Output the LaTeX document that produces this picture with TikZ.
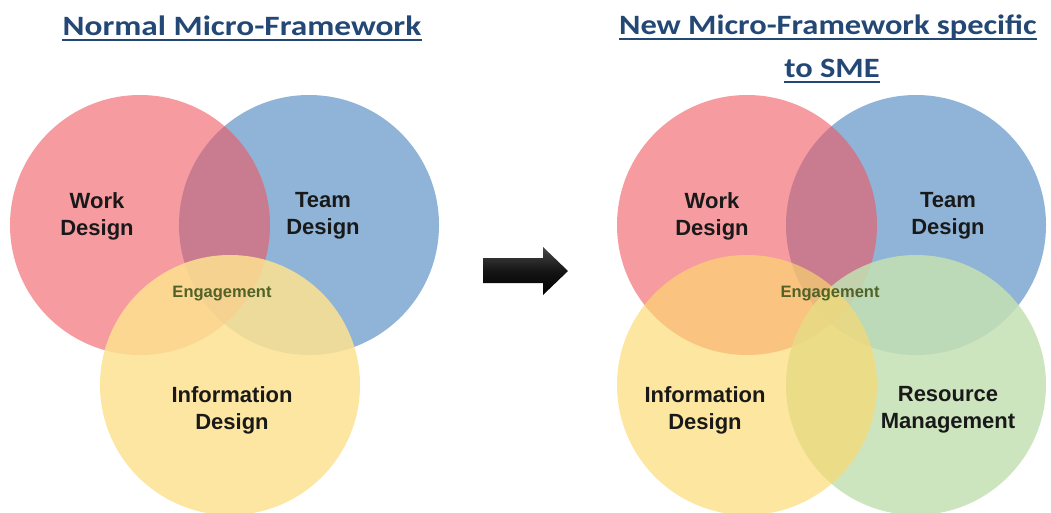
\documentclass[tikz,border=0pt]{standalone}
\usepackage{fontspec}
\setmainfont{Liberation Sans}
\newfontfamily\titlefont{Carlito}
\definecolor{titleblue}{RGB}{36,72,118}
\definecolor{bluec}{RGB}{143,180,215}
\definecolor{redc}{RGB}{240,88,97}
\definecolor{yellowL}{RGB}{253,226,144}
\definecolor{yellowR}{RGB}{252,217,109}
\definecolor{greenc}{RGB}{196,224,179}
\definecolor{engc}{RGB}{80,98,40}
\tikzset{
  venn/.style={circle, minimum size=260pt, inner sep=0pt, draw=none},
  bluecirc/.style={venn, fill=bluec},
  redcirc/.style={venn, fill=redc, fill opacity=0.6},
  yellowcircL/.style={venn, fill=yellowL, fill opacity=0.85},
  yellowcircR/.style={venn, fill=yellowR, fill opacity=0.65},
  greencirc/.style={venn, fill=greenc, fill opacity=0.85},
  lbl/.style={align=center, font=\bfseries\fontsize{22}{27}\selectfont, text=black!90, inner sep=0pt},
  eng/.style={font=\bfseries\fontsize{16.5}{20}\selectfont, text=engc, inner sep=0pt},
  ttl/.style={font=\titlefont\bfseries\fontsize{28}{34}\selectfont, text=titleblue, inner sep=0pt, anchor=base},
  uline/.style={draw=titleblue, line width=2pt}
}
\begin{document}
\begin{tikzpicture}[x=1pt,y=-1pt]
\useasboundingbox (0,0) rectangle (1051,513);
% titles
\node[ttl] (t1) at (242,36) {\scalebox{1.19}[1]{Normal Micro-Framework}};
\draw[uline] ([yshift=-4pt]t1.base west) -- ([yshift=-4pt]t1.base east);
\node[ttl] (t2) at (828,35) {\scalebox{1.16}[1]{New Micro-Framework specific}};
\draw[uline] ([yshift=-4pt]t2.base west) -- ([yshift=-4pt]t2.base east);
\node[ttl] (t3) at (832,78) {\scalebox{1.16}[1]{to SME}};
\draw[uline] ([yshift=-4pt]t3.base west) -- ([yshift=-4pt]t3.base east);
% left venn
\node[bluecirc] (lb) at (309,225) {};
\node[redcirc] (lr) at (140,225) {};
\node[yellowcircL] (ly) at (230,385) {};
\node[lbl] (lwd) at (97,216) {Work\\Design};
\node[lbl] (ltd) at (323,216) {Team\\Design};
\node[lbl] (lid) at (232,410) {Information\\Design};
\node[eng] (le) at (222,294) {Engagement};
% block arrow
\shade[top color=black!72, bottom color=black, middle color=black!92]
  (483,258) -- (543,258) -- (543,247) -- (568,271) -- (543,295) -- (543,283) -- (483,283) -- cycle;
% right venn
\node[bluecirc] (rb) at (916,225) {};
\node[redcirc] (rr) at (747,225) {};
\node[greencirc] (rg) at (916,385) {};
\node[yellowcircR] (ry) at (747,385) {};
\node[lbl] (rwd) at (712,216) {Work\\Design};
\node[lbl] (rtd) at (948,216) {Team\\Design};
\node[lbl] (rid) at (705,410) {Information\\Design};
\node[lbl] (rrm) at (948,410) {Resource\\Management};
\node[eng] (re) at (830,294) {Engagement};
\end{tikzpicture}
\end{document}
